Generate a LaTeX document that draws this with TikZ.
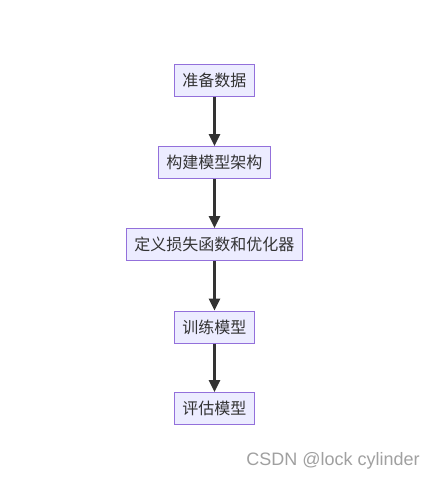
\documentclass[tikz,border=0pt]{standalone}
\usepackage{fontspec}
\setmainfont{Liberation Sans}
\newfontfamily\cjk{Noto Sans CJK SC}
\usetikzlibrary{arrows.meta}
\definecolor{boxfill}{HTML}{ECECFF}
\definecolor{boxline}{HTML}{9370DB}
\definecolor{txt}{HTML}{333333}
\definecolor{wm}{HTML}{A0A0A0}
\begin{document}
\begin{tikzpicture}[x=0.75pt,y=-0.75pt,
  flowbox/.style={draw=boxline,fill=boxfill,line width=0.75pt,text=txt,
    font=\cjk\fontsize{12pt}{14pt}\selectfont,inner xsep=6.2pt,inner ysep=0pt,
    minimum height=24pt,anchor=center},
  flowarrow/.style={draw=txt,line width=1.6pt,-{Triangle[length=9pt,width=8.5pt]}}]
\useasboundingbox (0,0) rectangle (435,480);
\node[flowbox] (a) at (214.5,80) {准备数据};
\node[flowbox] (b) at (214.5,162.5) {构建模型架构};
\node[flowbox] (c) at (214.5,244.5) {定义损失函数和优化器};
\node[flowbox] (d) at (214.5,327) {训练模型};
\node[flowbox] (e) at (214.5,408.5) {评估模型};
\draw[flowarrow] (a) -- (b);
\draw[flowarrow] (b) -- (c);
\draw[flowarrow] (c) -- (d);
\draw[flowarrow] (d) -- (e);
\node[text=wm,font=\fontsize{13.5pt}{15pt}\selectfont,inner sep=0pt] (wmk) at (333,461) {CSDN @lock cylinder};
\end{tikzpicture}
\end{document}
